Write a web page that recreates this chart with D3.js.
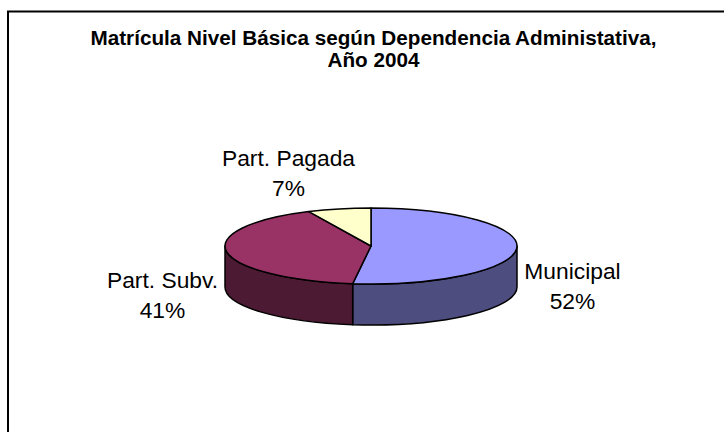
<!DOCTYPE html>
<html>
<head>
<meta charset="utf-8">
<script src="https://cdnjs.cloudflare.com/ajax/libs/d3/7.8.5/d3.min.js"></script>
<style>html,body{margin:0;padding:0;background:#fff}svg{display:block}</style>
</head>
<body>
<svg id="c" width="724" height="432"></svg>
<script>
const categories = ["Municipal", "Part. Subv.", "Part. Pagada"];
const values = [52, 41, 7];
const topColors = ["#9999ff", "#993366", "#ffffcc"];
const wallColors = ["#4d4d80", "#4d1a33", "#80805f"];
const titleLines = ["Matrícula Nivel Básica según Dependencia Administativa,", "Año 2004"];

const W = 724, H = 432, cx = 371, cy = 246, rx = 146, ry = 38, depth = 41;
const svg = d3.select("#c");
const font = "'Liberation Sans', Arial, sans-serif";

svg.append("path").attr("d", `M8 432V11.5H724`).attr("fill", "none").attr("stroke", "#000").attr("stroke-width", 2);

svg.selectAll("text.t").data(titleLines).join("text").attr("class", "t")
  .attr("x", 373.5).attr("y", (d, i) => 45 + i * 22)
  .attr("text-anchor", "middle").attr("font-family", font)
  .attr("font-weight", "bold").attr("font-size", 20.7).attr("fill", "#000").text(d => d);

const arcs = d3.pie().sort(null).value(d => d)(values);
const px = a => cx + rx * Math.sin(a), py = (a, dy = 0) => cy - ry * Math.cos(a) + dy;

const stroke = sel => sel.attr("stroke", "#000").attr("stroke-width", 1.5).attr("stroke-linejoin", "round");

arcs.forEach((a, i) => {
  const s = Math.max(a.startAngle, Math.PI / 2), e = Math.min(a.endAngle, 3 * Math.PI / 2);
  if (e <= s) return;
  svg.append("path").call(stroke).attr("fill", wallColors[i]).attr("d",
    `M${px(s)} ${py(s)}A${rx} ${ry} 0 0 1 ${px(e)} ${py(e)}` +
    `L${px(e)} ${py(e, depth)}A${rx} ${ry} 0 0 0 ${px(s)} ${py(s, depth)}Z`);
});

const arc = d3.arc().innerRadius(0).outerRadius(rx);
const g = svg.append("g").attr("transform", `translate(${cx},${cy}) scale(1,${ry / rx})`);
g.selectAll("path").data(arcs).join("path")
  .attr("d", arc).attr("fill", (d, i) => topColors[i])
  .attr("stroke", "#000").attr("stroke-width", 1.5).attr("stroke-linejoin", "round")
  .attr("vector-effect", "non-scaling-stroke");

const labelPos = [[572.5, 279], [162.5, 288], [288.5, 166]];
categories.forEach((c, i) => {
  const t = svg.append("text").attr("text-anchor", "middle").attr("font-family", font)
    .attr("font-size", 22.8).attr("fill", "#000");
  t.append("tspan").attr("x", labelPos[i][0]).attr("y", labelPos[i][1]).text(c);
  t.append("tspan").attr("x", labelPos[i][0]).attr("y", labelPos[i][1] + 30).text(values[i] + "%");
});
</script>
</body>
</html>
